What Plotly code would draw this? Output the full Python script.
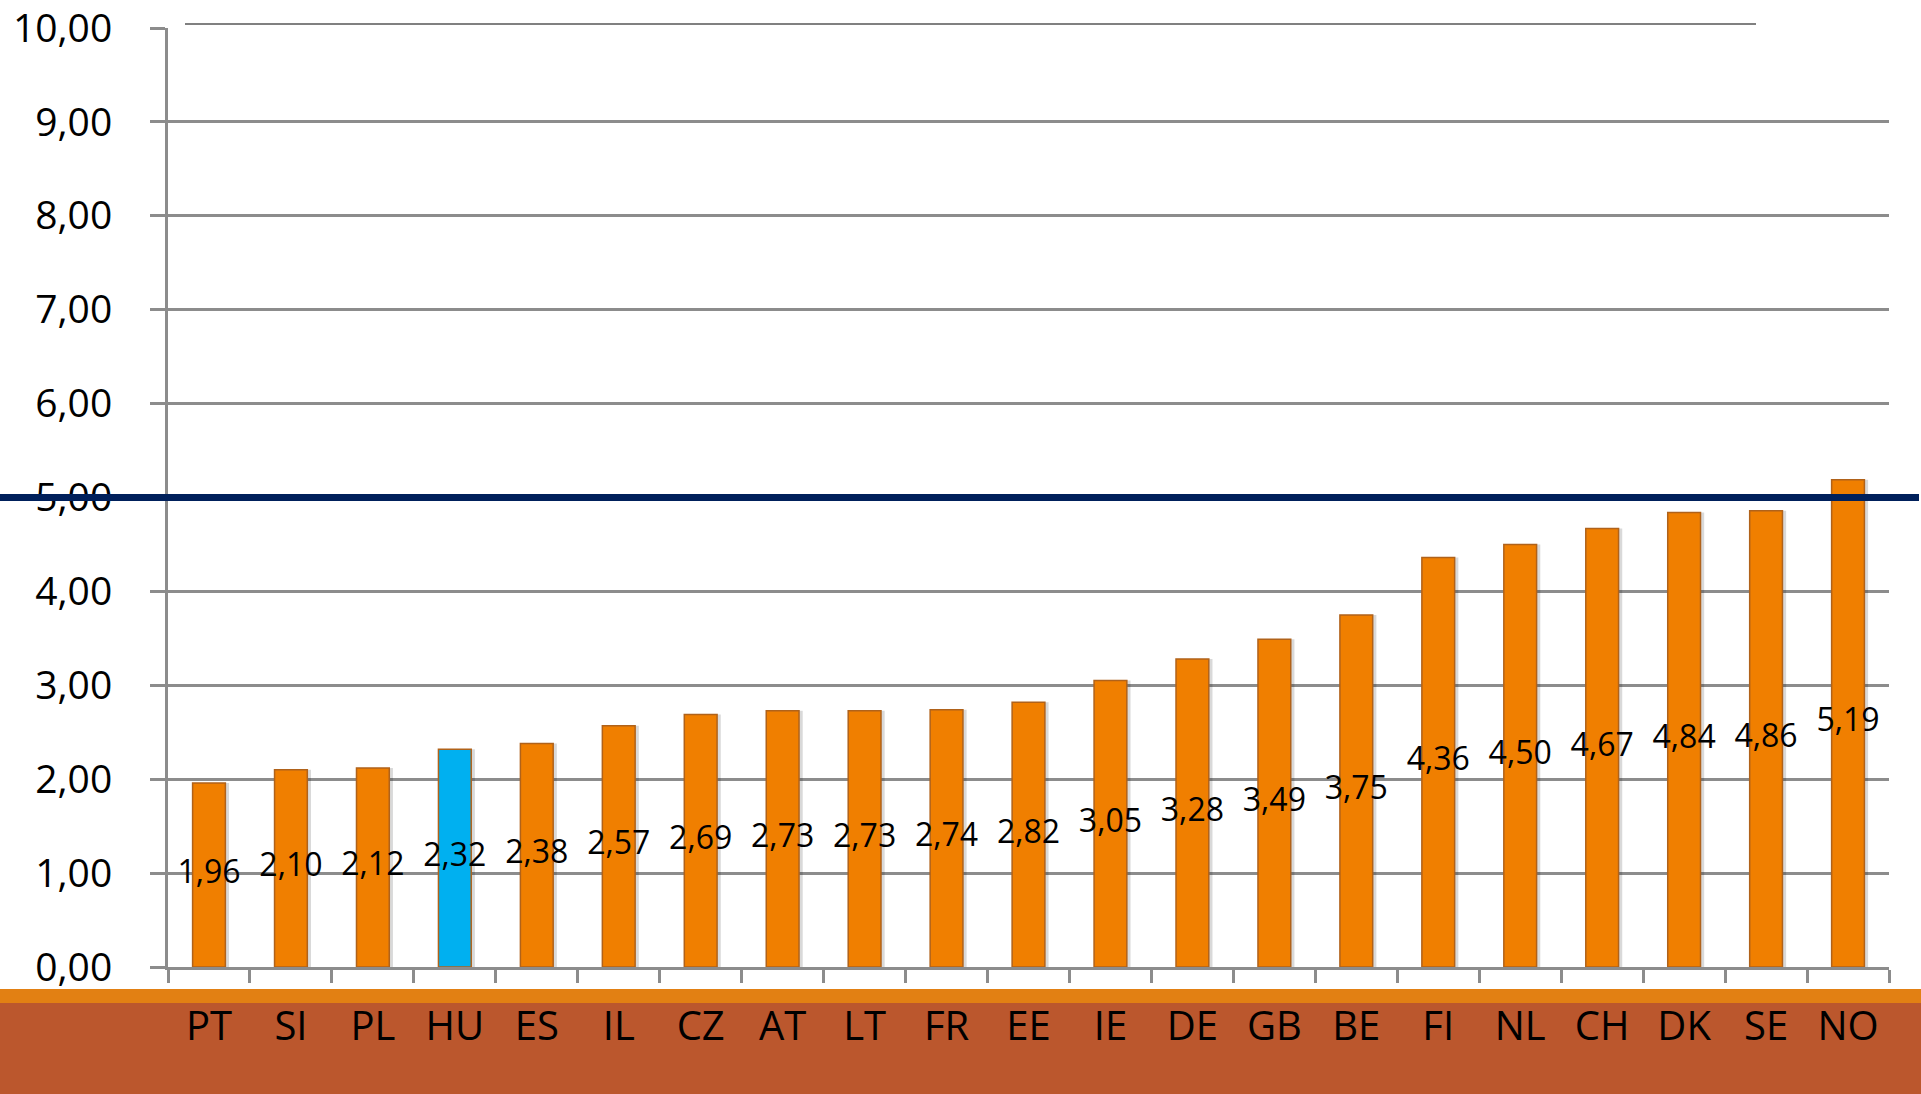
import plotly.graph_objects as go

countries = ["PT", "SI", "PL", "HU", "ES", "IL", "CZ", "AT", "LT", "FR", "EE",
             "IE", "DE", "GB", "BE", "FI", "NL", "CH", "DK", "SE", "NO"]
values = [1.96, 2.10, 2.12, 2.32, 2.38, 2.57, 2.69, 2.73, 2.73, 2.74, 2.82,
          3.05, 3.28, 3.49, 3.75, 4.36, 4.50, 4.67, 4.84, 4.86, 5.19]
highlight = "HU"
threshold = 5.0
y_ticks = [0, 1, 2, 3, 4, 5, 6, 7, 8, 9, 10]

ORANGE = "#F07F00"
BLUE = "#00B0F0"
W, H = 1921, 1094
L, R, T, B = 168, 32, 28, 127
plot_w = W - L - R
plot_h = H - T - B


def px_to_paper_y(p):
    return (H - B - p) / plot_h


def px_to_paper_x(p):
    return (p - L) / plot_w


colors = [BLUE if c == highlight else ORANGE for c in countries]
labels = [f"{v:.2f}".replace(".", ",") for v in values]
mid = [v / 2 for v in values]

fig = go.Figure()
# subtle shadow
fig.add_trace(go.Bar(
    x=countries, y=values, width=0.4, offset=-0.2 + 0.045,
    marker=dict(color="rgba(0,0,0,0.15)", line=dict(width=0)),
    hoverinfo="skip", showlegend=False,
))
fig.add_trace(go.Bar(
    x=countries, y=values, width=0.4, offset=-0.2,
    marker=dict(color=colors, line=dict(color="#B0621A", width=1.5)),
    showlegend=False,
))
fig.add_trace(go.Scatter(
    x=countries, y=mid, mode="text", text=labels,
    textposition="middle center",
    textfont=dict(family="Open Sans", size=32, color="black"),
    cliponaxis=False, showlegend=False, hoverinfo="skip",
))

shapes = [
    # brown bottom band
    dict(type="rect", xref="paper", yref="paper",
         x0=px_to_paper_x(0), x1=px_to_paper_x(W),
         y0=px_to_paper_y(H + 2), y1=px_to_paper_y(1003),
         fillcolor="#BB572D", line=dict(width=0), layer="below"),
    # orange strip
    dict(type="rect", xref="paper", yref="paper",
         x0=px_to_paper_x(0), x1=px_to_paper_x(W),
         y0=px_to_paper_y(1003), y1=px_to_paper_y(989),
         fillcolor="#E28013", line=dict(width=0), layer="below"),
    # extra top line
    dict(type="line", xref="paper", yref="paper",
         x0=px_to_paper_x(185), x1=px_to_paper_x(1756),
         y0=px_to_paper_y(24), y1=px_to_paper_y(24),
         line=dict(color="#808080", width=2)),
    # threshold line
    dict(type="line", xref="paper", yref="y",
         x0=px_to_paper_x(0), x1=px_to_paper_x(1919),
         y0=threshold, y1=threshold,
         line=dict(color="#00205B", width=7), layer="above"),
]

fig.update_layout(
    width=W, height=H,
    margin=dict(l=L, r=R, t=T, b=B, pad=0, autoexpand=False),
    paper_bgcolor="white", plot_bgcolor="white",
    barmode="overlay",
    separators=",.",
    shapes=shapes,
    showlegend=False,
    font=dict(family="Open Sans", color="black"),
)
fig.update_yaxes(
    range=[0, 10], tickvals=y_ticks, tickformat=".2f",
    showgrid=True, gridcolor="#8C8C8C", gridwidth=2.5,
    showline=True, linecolor="#8C8C8C", linewidth=3,
    ticks="outside", ticklen=15, tickcolor="#8C8C8C", tickwidth=2.5,
    tickfont=dict(family="Open Sans", size=39, color="black"),
    ticklabelstandoff=30, zeroline=False, ticklabeloverflow="allow",
)
fig.update_xaxes(
    type="category", tickson="boundaries", range=[-0.5, len(countries) - 0.5],
    showline=True, linecolor="#8C8C8C", linewidth=3,
    ticks="outside", ticklen=13, tickcolor="#8C8C8C", tickwidth=2.5,
    tickfont=dict(family="Open Sans", size=40, color="black"),
    ticklabelstandoff=22, showgrid=False, ticklabeloverflow="allow",
)

fig.write_html(
    "out.html",
    config={"displayModeBar": False},
    post_script="document.body.style.margin='0';document.body.style.overflow='hidden';",
)
